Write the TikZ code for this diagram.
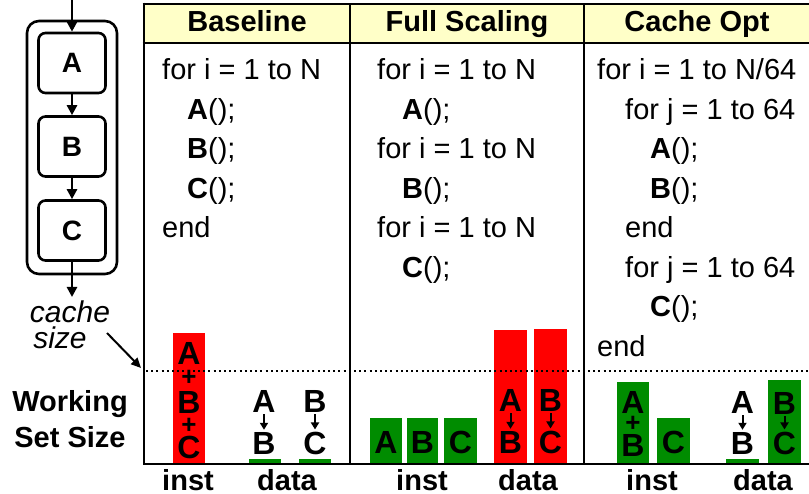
\documentclass[tikz,border=0pt]{standalone}
\usepackage{fontspec}
\setmainfont{Liberation Sans}
\usetikzlibrary{arrows.meta}
\definecolor{hdr}{RGB}{255,255,200}
\definecolor{gbar}{RGB}{0,140,0}
\definecolor{rbar}{RGB}{255,0,0}
\begin{document}
\begin{tikzpicture}[x=1pt,y=-1pt,
  tline/.style={line width=2.6pt},
  code/.style={anchor=base west, inner sep=0pt, font=\fontsize{29}{35}\selectfont},
  hdrtxt/.style={anchor=base, inner sep=0pt, font=\fontsize{29}{35}\selectfont\bfseries},
  barl/.style={inner sep=0pt, font=\fontsize{32}{38}\selectfont\bfseries},
  plus/.style={inner sep=0pt, font=\fontsize{26}{30}\selectfont\bfseries},
  axl/.style={anchor=base, inner sep=0pt, font=\fontsize{29}{35}\selectfont\bfseries},
  sidel/.style={anchor=base, inner sep=0pt, font=\fontsize{29}{35}\selectfont\bfseries},
  cachel/.style={anchor=base, inner sep=0pt, font=\fontsize{30}{36}\selectfont\itshape},
  blk/.style={draw, line width=2.6pt, rounded corners=7pt, minimum width=67pt, minimum height=60pt, inner sep=0pt, font=\fontsize{28}{32}\selectfont\bfseries},
  flow/.style={line width=2.6pt, -{Triangle[length=10pt,width=10pt]}},
  smallarr/.style={line width=2pt, -{Triangle[length=7pt,width=8pt]}},
  ptr/.style={line width=2pt, -{Triangle[length=10pt,width=9pt]}},
]
\useasboundingbox (0,0) rectangle (809,494);

% ---- left flow diagram ----
\draw[line width=2.6pt, rounded corners=12pt] (27,21) rectangle (117,274);
\node[blk] (A) at (72,63) {A};
\node[blk] (B) at (72,146.5) {B};
\node[blk] (C) at (72,230.5) {C};
\coordinate (in) at (72,0);
\coordinate (out) at (72,297);
\draw[flow] (in) -- (A.north);
\draw[flow] (A.south) -- (B.north);
\draw[flow] (B.south) -- (C.north);
\draw[flow] (C.south) -- (out);

\node[cachel] (cache) at (70,323) {cache};
\node[cachel] (size) at (60,349) {size};
\coordinate (cstart) at (107,333);
\coordinate (cend) at (141,368);
\draw[ptr] (cstart) -- (cend);
\node[sidel] (ws1) at (70,411) {Working};
\node[sidel] (ws2) at (70,447) {Set Size};

% ---- header ----
\fill[hdr] (144,4) rectangle (809,43);
\node[hdrtxt] (h1) at (247,32) {Baseline};
\node[hdrtxt] (h2) at (467,32) {Full Scaling};
\node[hdrtxt] (h3) at (697,32) {Cache Opt};

% ---- bars ----
\fill[rbar] (173,333) rectangle (205,464);
\fill[gbar] (249,459) rectangle (281,464);
\fill[gbar] (299,459) rectangle (331,464);

\fill[gbar] (370,418) rectangle (402,464);
\fill[gbar] (407,418) rectangle (438,464);
\fill[gbar] (444,418) rectangle (477,464);
\fill[rbar] (494,330) rectangle (527,464);
\fill[rbar] (534,329) rectangle (567,464);

\fill[gbar] (617,382) rectangle (649,464);
\fill[gbar] (657,418) rectangle (690,464);
\fill[gbar] (726,459) rectangle (759,464);
\fill[gbar] (768,380) rectangle (801,464);

% ---- table lines ----
\draw[tline] (142.7,4) -- (809,4);
\draw[tline] (142.7,43) -- (809,43);
\draw[tline] (144,2.7) -- (144,465.3);
\draw[tline] (350,4) -- (350,464);
\draw[tline] (584,4) -- (584,464);
\draw[tline] (144,464) -- (809,464);
\draw[line width=2pt, dash pattern=on 2pt off 3.2pt] (146,371) -- (809,371);

% ---- code: Baseline ----
\node[code] (b1) at (162,80) {for i = 1 to N};
\node[code] (b2) at (187,119.5) {\textbf{A}();};
\node[code] (b3) at (187,159) {\textbf{B}();};
\node[code] (b4) at (187,198.5) {\textbf{C}();};
\node[code] (b5) at (162,238) {end};

% ---- code: Full Scaling ----
\node[code] (f1) at (377,80) {for i = 1 to N};
\node[code] (f2) at (402,119.5) {\textbf{A}();};
\node[code] (f3) at (377,159) {for i = 1 to N};
\node[code] (f4) at (402,198.5) {\textbf{B}();};
\node[code] (f5) at (377,238) {for i = 1 to N};
\node[code] (f6) at (402,277.5) {\textbf{C}();};

% ---- code: Cache Opt ----
\node[code] (c1) at (597,80) {for i = 1 to N/64};
\node[code] (c2) at (625,119.5) {for j = 1 to 64};
\node[code] (c3) at (650,159) {\textbf{A}();};
\node[code] (c4) at (650,198.5) {\textbf{B}();};
\node[code] (c5) at (625,238) {end};
\node[code] (c6) at (625,277.5) {for j = 1 to 64};
\node[code] (c7) at (650,317) {\textbf{C}();};
\node[code] (c8) at (597,356.5) {end};

% ---- bar labels: Baseline ----
\node[barl] (r1a) at (189,353) {A};
\node[plus] (r1p1) at (189,378) {+};
\node[barl] (r1b) at (189,402) {B};
\node[plus] (r1p2) at (189,426) {+};
\node[barl] (r1c) at (189,447) {C};
\node[barl] (d1a) at (264,401) {A};
\node[barl] (d1b) at (264,443) {B};
\draw[smallarr] ([yshift=-2pt]d1a.south) -- ([yshift=2pt]d1b.north);
\node[barl] (d2b) at (315,401) {B};
\node[barl] (d2c) at (315,443) {C};
\draw[smallarr] ([yshift=-2pt]d2b.south) -- ([yshift=2pt]d2c.north);

% ---- bar labels: Full Scaling ----
\node[barl] (g1) at (386,442) {A};
\node[barl] (g2) at (422.5,442) {B};
\node[barl] (g3) at (460.5,442) {C};
\node[barl] (e1a) at (510.5,400) {A};
\node[barl] (e1b) at (510.5,442) {B};
\draw[smallarr] ([yshift=-2pt]e1a.south) -- ([yshift=2pt]e1b.north);
\node[barl] (e2b) at (550.5,400) {B};
\node[barl] (e2c) at (550.5,442) {C};
\draw[smallarr] ([yshift=-2pt]e2b.south) -- ([yshift=2pt]e2c.north);

% ---- bar labels: Cache Opt ----
\node[barl] (k1a) at (633,402) {A};
\node[plus] (k1p) at (633,424) {+};
\node[barl] (k1b) at (633,445) {B};
\node[barl] (k2c) at (673.5,442) {C};
\node[barl] (k3a) at (742.5,402) {A};
\node[barl] (k3b) at (742.5,443) {B};
\draw[smallarr] ([yshift=-2pt]k3a.south) -- ([yshift=2pt]k3b.north);
\node[barl] (k4b) at (784.5,403) {B};
\node[barl] (k4c) at (784.5,443) {C};
\draw[smallarr] ([yshift=-2pt]k4b.south) -- ([yshift=2pt]k4c.north);

% ---- axis labels ----
\node[axl] (x1) at (188,490) {inst};
\node[axl] (x2) at (287,490) {data};
\node[axl] (x3) at (422,490) {inst};
\node[axl] (x4) at (528,490) {data};
\node[axl] (x5) at (652,490) {inst};
\node[axl] (x6) at (763,490) {data};
\end{tikzpicture}
\end{document}
